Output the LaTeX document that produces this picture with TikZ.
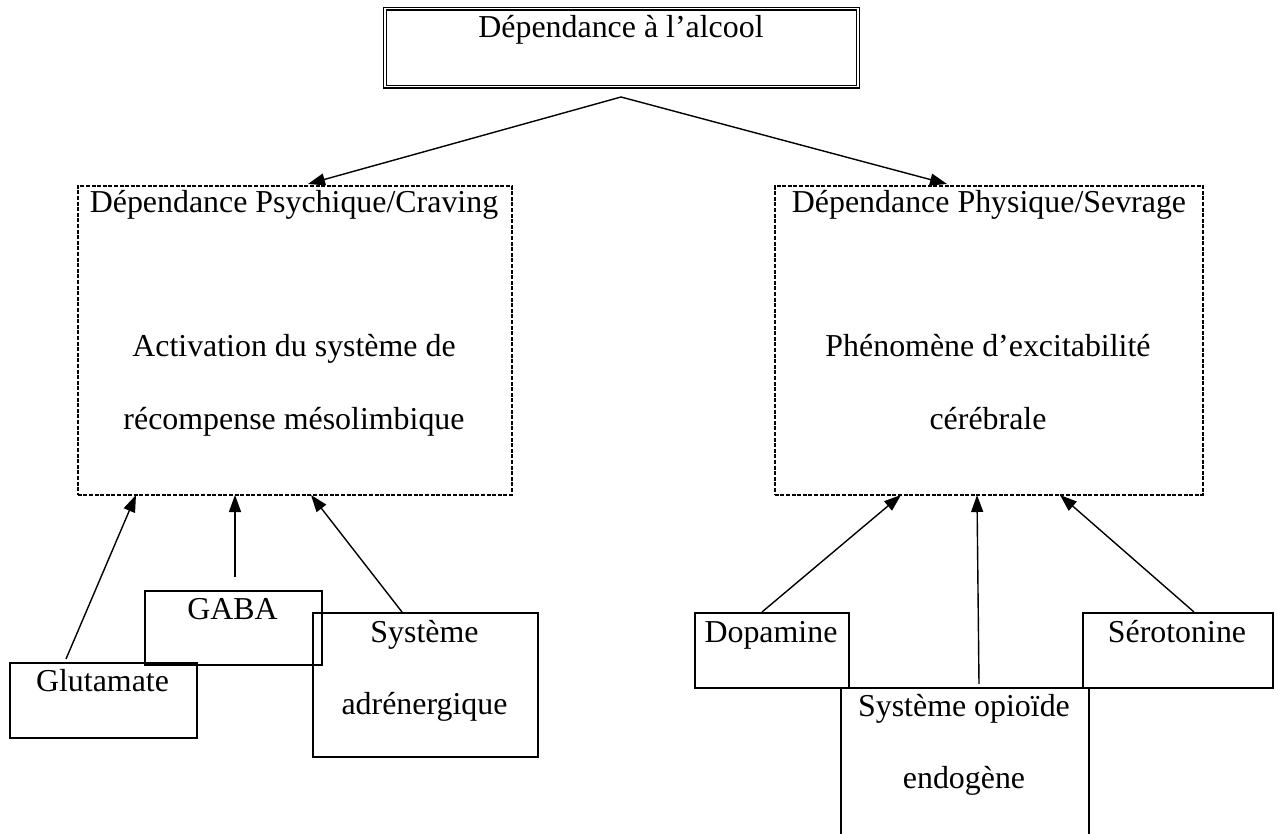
\documentclass[tikz,border=0pt]{standalone}
\usepackage{fontspec}
\setmainfont{Liberation Serif}
\usetikzlibrary{arrows.meta}
\begin{document}
\begin{tikzpicture}[x=1pt,y=-1pt,
  solidbox/.style={draw, line width=1.9pt, inner sep=0pt, anchor=north west},
  dashbox/.style={draw, line width=1.6pt, dash pattern=on 4pt off 1.6pt, inner sep=0pt, anchor=north west},
  topbox/.style={draw, line width=1.3pt, double, double distance=1.6pt, inner sep=0pt, anchor=north west},
  conn/.style={line width=1.4pt, -{Triangle[length=17pt,width=12pt]}},
  txt/.style={anchor=base, inner sep=0pt, font=\fontsize{31.9pt}{38pt}\selectfont}]
\useasboundingbox (0,0) rectangle (1278,834);

% top box
\node[topbox, minimum width=473pt, minimum height=78pt] (top) at (384.5,8) {};
\node[txt] (toptxt) at (621,38) {Dépendance à l’alcool};

% dashed boxes
\node[dashbox, minimum width=434pt, minimum height=309pt] (psy) at (77,185) {};
\node[txt] (psyA) at (294,213) {Dépendance Psychique/Craving};
\node[txt] (psyB) at (294,357) {Activation du système de};
\node[txt] (psyC) at (294,429) {récompense mésolimbique};

\node[dashbox, minimum width=428pt, minimum height=309pt] (phy) at (774,185) {};
\node[txt] (phyA) at (989,213) {Dépendance Physique/Sevrage};
\node[txt] (phyB) at (988,357) {Phénomène d’excitabilité};
\node[txt] (phyC) at (988,429) {cérébrale};

% bottom boxes
\node[solidbox, minimum width=187pt, minimum height=75pt] (glut) at (9,662) {};
\node[txt] (glutT) at (102.5,691) {Glutamate};
\node[solidbox, minimum width=177pt, minimum height=74pt] (gaba) at (144,590) {};
\node[txt] (gabaT) at (232.5,619) {GABA};
\node[solidbox, minimum width=225pt, minimum height=144pt] (adr) at (312,612) {};
\node[txt] (adrA) at (424.5,642) {Système};
\node[txt] (adrB) at (424.5,714) {adrénergique};

\node[solidbox, minimum width=154pt, minimum height=75pt] (dopa) at (694,612) {};
\node[txt] (dopaT) at (771,642) {Dopamine};
\node[solidbox, minimum width=248pt, minimum height=180pt] (opio) at (840,687) {};
\node[txt] (opioA) at (964,716) {Système opioïde};
\node[txt] (opioB) at (964,788) {endogène};
\node[solidbox, minimum width=190pt, minimum height=75pt] (sero) at (1082,612) {};
\node[txt] (seroT) at (1177,642) {Sérotonine};

% connector ends
\coordinate (apex) at (621,97);
\coordinate (psyIn) at (308,184);
\coordinate (phyIn) at (947,184);
\coordinate (glutOut) at (66,659);
\coordinate (glutIn) at (136,495);
\coordinate (gabaOut) at (235,577);
\coordinate (gabaIn) at (235,495);
\coordinate (adrOut) at (402,612);
\coordinate (adrIn) at (311,495);
\coordinate (dopaOut) at (762,612);
\coordinate (dopaIn) at (901,495);
\coordinate (opioOut) at (979,684);
\coordinate (opioIn) at (977,495);
\coordinate (seroOut) at (1194,612);
\coordinate (seroIn) at (1060,495);

\draw[conn] (apex) -- (psyIn);
\draw[conn] (apex) -- (phyIn);
\draw[conn] (glutOut) -- (glutIn);
\draw[conn] (gabaOut) -- (gabaIn);
\draw[conn] (adrOut) -- (adrIn);
\draw[conn] (dopaOut) -- (dopaIn);
\draw[conn] (opioOut) -- (opioIn);
\draw[conn] (seroOut) -- (seroIn);
\end{tikzpicture}
\end{document}
